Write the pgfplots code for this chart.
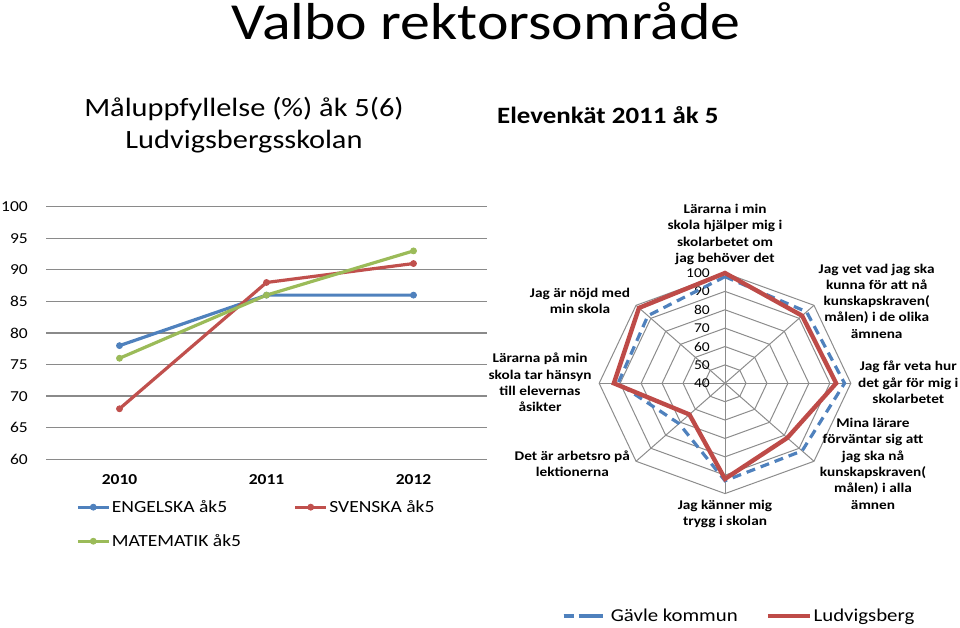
\documentclass[border=0pt]{standalone}
\usepackage{fontspec}
\setmainfont{Carlito}[FakeStretch=1.15]
\usepackage{pgfplots}
\usepackage{pgfplotstable}
\pgfplotsset{compat=1.18}
\definecolor{cblue}{HTML}{4F81BD}
\definecolor{cred}{HTML}{C0504D}
\definecolor{cgreen}{HTML}{9BBB59}
\definecolor{rblue}{HTML}{4F81BD}
\definecolor{rred}{HTML}{BE4B48}
\definecolor{gridc}{HTML}{8A8A8A}
\definecolor{rgrid}{HTML}{8C8C8C}

\pgfplotsset{
  gavleleg/.style={legend image code/.code={\draw[##1, dash pattern=on 10pt off 10pt] (0pt,0pt) -- (31pt,0pt); \path (0pt,0pt) -- (44pt,0pt);}},
  ludvleg/.style={legend image code/.code={\draw[##1] (0pt,0pt) -- (42pt,0pt);}},
}

\pgfplotstableread{
a gavle ludv
0 98 100
45 95 92
90 97 93
135 92 82
180 93 92
225 71 64
270 91 93
315 92 98
}\radartab

\begin{document}
\begin{tikzpicture}
\useasboundingbox (0pt,0pt) rectangle (960pt,628pt);

% titles
\node[anchor=base, inner sep=0pt] at (486pt,588.5pt) {\fontsize{52}{60}\selectfont Valbo rektorsområde};
\node[anchor=base, inner sep=0pt] at (244pt,511pt) {\fontsize{26.4}{30}\selectfont Måluppfyllelse (\%) åk 5(6)};
\node[anchor=base, inner sep=0pt] at (244pt,479pt) {\fontsize{26.4}{30}\selectfont Ludvigsbergsskolan};
\node[anchor=base west, inner sep=0pt] at (497pt,504pt) {\fontsize{23.4}{28}\selectfont\bfseries Elevenkät 2011 åk 5};

% line chart
\begin{axis}[
  at={(46pt,168.7pt)}, anchor=south west,
  scale only axis, width=441pt, height=252.6pt,
  xmin=-0.5, xmax=2.5, ymin=60, ymax=100,
  ytick={60,65,70,75,80,85,90,95,100},
  xtick={0,1,2}, xticklabels={2010,2011,2012},
  axis line style={draw=none}, major tick length=0pt,
  ymajorgrids, grid style={color=gridc, line width=1.3pt},
  /pgf/number format/assume math mode=true,
  yticklabel style={font=\fontsize{15.2}{18}\selectfont, anchor=east, inner sep=0pt, xshift=-18pt},
  xticklabel style={font=\fontsize{15.2}{18}\selectfont\bfseries, anchor=center, inner sep=0pt, yshift=-20.7pt},
  clip=false,
  legend columns=2,
  legend cell align=left,
  legend image code/.code={\draw[#1, mark repeat=2, mark phase=2] plot coordinates {(0pt,0pt) (15.5pt,0pt) (31pt,0pt)};},
  legend style={at={(axis description cs:0.068,-0.156)}, anchor=north west, draw=none, fill=none,
    inner sep=0pt, column sep=0pt, row sep=17.5pt,
    font=\fontsize{17}{20}\selectfont,
    nodes={inner sep=1.5pt},
    /tikz/every even column/.append style={column sep=51pt}},
]
\addplot[cblue, line width=3.2pt, mark=*, mark size=3pt, mark options={solid, line width=0.8pt}] coordinates {(0,78) (1,86) (2,86)};
\addlegendentry{ENGELSKA åk5}
\addplot[cred, line width=3.2pt, mark=*, mark size=3pt, mark options={solid, line width=0.8pt}] coordinates {(0,68) (1,88) (2,91)};
\addlegendentry{SVENSKA åk5}
\addplot[cgreen, line width=3.2pt, mark=*, mark size=3pt, mark options={solid, line width=0.8pt}] coordinates {(0,76) (1,86) (2,93)};
\addlegendentry{MATEMATIK åk5}
\end{axis}

% radar chart
\begin{axis}[
  at={(725pt,244.7pt)}, anchor=center,
  x=2.097pt, y=1.838pt,
  xmin=-60, xmax=60, ymin=-60, ymax=60,
  hide axis, clip=false,
  legend columns=2,
  legend style={at={(axis description cs:-0.148,-0.555)}, anchor=west, draw=none, fill=none,
    inner sep=0pt, column sep=0pt,
    font=\fontsize{18.1}{21}\selectfont,
    nodes={inner sep=1.5pt},
    /tikz/every even column/.append style={column sep=26.5pt}},
]
\pgfplotsinvokeforeach{0,45,90,135,180,225,270,315}{
  \draw[rgrid, line width=1pt] (axis cs:0,0) -- (axis cs:{60*sin(#1)},{60*cos(#1)});
}
\pgfplotsinvokeforeach{10,20,30,40,50,60}{
  \draw[rgrid, line width=1pt] (axis cs:0,#1) -- (axis cs:{#1*sin(45)},{#1*cos(45)}) -- (axis cs:#1,0)
    -- (axis cs:{#1*sin(135)},{#1*cos(135)}) -- (axis cs:0,{-#1}) -- (axis cs:{#1*sin(225)},{#1*cos(225)})
    -- (axis cs:{-#1},0) -- (axis cs:{#1*sin(315)},{#1*cos(315)}) -- cycle;
}
\pgfplotsinvokeforeach{40,50,60,70,80,90,100}{
  \node[anchor=east, inner sep=0pt, font=\fontsize{13.5}{15}\selectfont] at (axis cs:-7.15,{#1-40}) {#1};
}
\addplot[rblue, line width=3.2pt, dash pattern=on 9pt off 6pt, gavleleg]
  table[x expr={(\thisrow{gavle}-40)*sin(\thisrow{a})}, y expr={(\thisrow{gavle}-40)*cos(\thisrow{a})}] {\radartab} -- cycle;
\addlegendentry{Gävle kommun}
\addplot[rred, line width=4.4pt, line join=miter, ludvleg]
  table[x expr={(\thisrow{ludv}-40)*sin(\thisrow{a})}, y expr={(\thisrow{ludv}-40)*cos(\thisrow{a})}] {\radartab} -- cycle;
\addlegendentry{Ludvigsberg}
\end{axis}

% radar category labels
\begin{scope}[every node/.style={align=center, inner sep=0pt, font=\fontsize{13.3}{16.3}\selectfont\bfseries}]
\node at (725pt,393.5pt) {Lärarna i min\\skola hjälper mig i\\skolarbetet om\\jag behöver det};
\node at (876.7pt,327pt) {Jag vet vad jag ska\\kunna för att nå\\kunskapskraven(\\målen) i de olika\\ämnena};
\node at (908.3pt,245.5pt) {Jag får veta hur\\det går för mig i\\skolarbetet};
\node at (873pt,164.2pt) {Mina lärare\\förväntar sig att\\jag ska nå\\kunskapskraven(\\målen) i alla\\ämnen};
\node at (725pt,114pt) {Jag känner mig\\trygg i skolan};
\node at (572.3pt,164pt) {Det är arbetsro på\\lektionerna};
\node at (540pt,245.5pt) {Lärarna på min\\skola tar hänsyn\\till elevernas\\åsikter};
\node at (580pt,327.2pt) {Jag är nöjd med\\min skola};
\end{scope}
\end{tikzpicture}
\end{document}
